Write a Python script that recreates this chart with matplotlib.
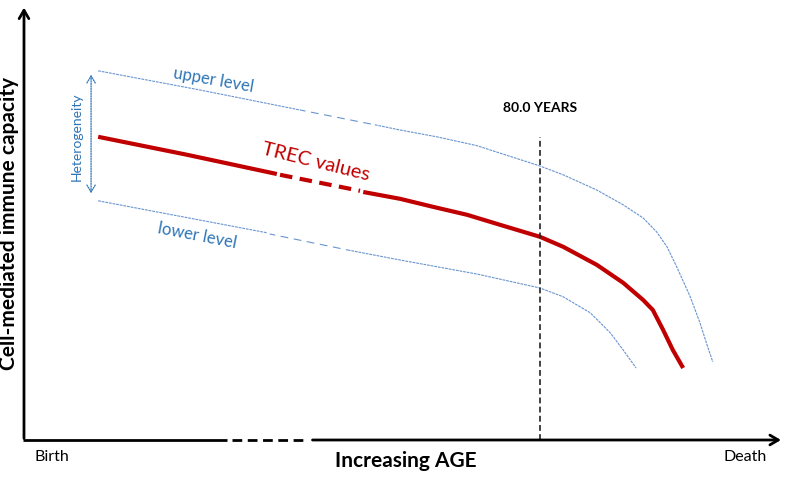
import matplotlib
matplotlib.use('Agg')
import matplotlib.pyplot as plt

plt.rcParams['font.family'] = ['Lato', 'DejaVu Sans']

# Ages in years (birth = 0), capacity in arbitrary units
trec_age_a = [11.5, 25.3, 39.2]
trec_cap_a = [75.8, 71.3, 66.5]
trec_age_gap = [39.7, 45.9, 52.1]
trec_cap_gap = [66.3, 64.3, 62.3]
trec_age_b = [52.6, 58.3, 63.4, 68.7, 73.8, 80.0, 83.6, 88.8, 92.9, 96.0, 97.5, 99.1, 100.6, 102.2]
trec_cap_b = [62.0, 60.3, 58.3, 56.3, 53.8, 50.8, 48.3, 43.8, 39.3, 35.0, 32.5, 27.5, 22.5, 18.0]

upper_age_a = [11.5, 27.3, 42.8]
upper_cap_a = [92.3, 87.5, 82.5]
upper_age_gap = [42.8, 54.4]
upper_cap_gap = [82.5, 78.8]
upper_age_b = [54.4, 58.3, 64.0, 70.2, 80.0, 83.6, 88.8, 92.9, 96.0, 98.1, 99.7, 101.2, 103.3,
               104.8, 106.0, 106.8]
upper_cap_b = [78.8, 77.5, 75.8, 73.6, 68.5, 66.3, 62.5, 58.8, 55.5, 52.0, 48.3, 43.3, 35.8,
               29.3, 23.3, 19.5]

lower_age_a = [11.5, 37.7]
lower_cap_a = [59.8, 51.8]
lower_age_gap = [38.1, 50.2]
lower_cap_gap = [51.5, 47.5]
lower_age_b = [50.2, 58.3, 70.2, 80.0, 83.6, 87.8, 90.9, 92.9, 94.9]
lower_cap_b = [47.5, 45.0, 41.5, 38.0, 35.8, 31.8, 26.8, 22.5, 18.0]

marker_age = 80.0
marker_label = '80.0 YEARS'

red = '#c00000'
blue_txt = '#2e75b6'
blue_line = '#6a95cf'

fig = plt.figure(figsize=(7.87, 4.79), dpi=100)
ax = fig.add_axes([0, 0, 1, 1])
ax.set_xlim(-3.72, 118.3)
ax.set_ylim(-9.75, 110)
ax.axis('off')

# axes drawn as arrows, x axis has a break
ax.annotate('', xy=(0, 108.8), xytext=(0, -0.3),
            arrowprops=dict(arrowstyle='->,head_length=0.6,head_width=0.35', lw=2, color='black'))
ax.plot([-0.15, 31.5], [0, 0], color='black', lw=2, solid_capstyle='butt')
ax.plot([32.3, 44.0], [0, 0], color='black', lw=2, linestyle=(0, (3.5, 2)))
ax.annotate('', xy=(117.8, 0), xytext=(44.3, 0),
            arrowprops=dict(arrowstyle='->,head_length=0.6,head_width=0.35', lw=2, color='black'))

# TREC curve
ax.plot(trec_age_a, trec_cap_a, color=red, lw=3, solid_capstyle='butt')
ax.plot(trec_age_gap, trec_cap_gap, color=red, lw=3, linestyle=(0, (3, 1.8)))
ax.plot(trec_age_b, trec_cap_b, color=red, lw=3, solid_capstyle='butt', solid_joinstyle='round')

# upper / lower levels
for a, c in [(upper_age_a, upper_cap_a), (upper_age_b, upper_cap_b),
             (lower_age_a, lower_cap_a), (lower_age_b, lower_cap_b)]:
    ax.plot(a, c, color=blue_line, lw=0.8, linestyle=(0, (2.5, 0.8)))
for a, c in [(upper_age_gap, upper_cap_gap), (lower_age_gap, lower_cap_gap)]:
    ax.plot(a, c, color=blue_line, lw=0.8, linestyle=(2, (7, 5)))

# 80 years marker
ax.plot([marker_age, marker_age], [0, 75.8], color='#222222', lw=1.2, linestyle=(0, (3.5, 2)))
ax.text(marker_age, 83, marker_label, ha='center', va='center', fontsize=10, fontweight='bold')

# heterogeneity arrow
ax.annotate('', xy=(10.4, 92.0), xytext=(10.4, 61.0),
            arrowprops=dict(arrowstyle='<->,head_length=0.5,head_width=0.3', lw=0.9,
                            color=blue_txt, linestyle=(0, (1, 1))))
ax.text(8.2, 75.8, 'Heterogeneity', rotation=90, ha='center', va='center',
        fontsize=10, color=blue_txt)

ax.text(29.3, 90.0, 'upper level', rotation=-10, ha='center', va='center',
        fontsize=12, color=blue_txt)
ax.text(26.8, 51.0, 'lower level', rotation=-11, ha='center', va='center',
        fontsize=12, color=blue_txt)
ax.text(45.3, 69.5, 'TREC values', rotation=-14, ha='center', va='center',
        fontsize=14.5, color=red)

ax.text(4.3, -4.25, 'Birth', ha='center', va='center', fontsize=11.5)
ax.text(111.8, -4.25, 'Death', ha='center', va='center', fontsize=11.5)
ax.text(59.2, -5.3, 'Increasing AGE', ha='center', va='center', fontsize=15, fontweight='bold')
ax.text(-2.3, 54, 'Cell-mediated immune capacity', rotation=90, ha='center', va='center',
        fontsize=15, fontweight='bold')

fig.savefig('out.png', dpi=100)
